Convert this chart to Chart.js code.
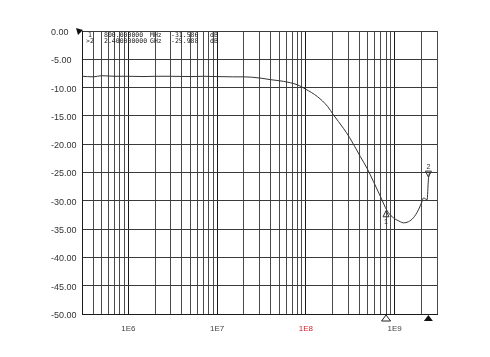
<!DOCTYPE html>
<html>
<head>
<meta charset="utf-8">
<script src="https://cdn.jsdelivr.net/npm/chart.js@4.4.0/dist/chart.umd.min.js"></script>
<style>
  html, body { margin: 0; padding: 0; background: #fff; }
  #wrap { width: 490px; height: 357px; }
</style>
</head>
<body>
<div id="wrap"><canvas id="chart" width="490" height="357"></canvas></div>
<script>
// trace: frequency (MHz) and level (dB)
const freqMHz = [0.3, 0.4, 0.5, 0.7, 1, 1.5, 2, 3, 5, 7, 10, 15, 20, 30, 40, 56, 80, 100, 135, 175,
  204, 265, 310, 411, 490, 577, 690, 787, 851, 968, 1161, 1256, 1429, 1626, 1854, 2037, 2109, 2323, 2399, 2466];
const levelDb = [-8.0, -8.1, -7.9, -8.0, -8.0, -8.05, -8.0, -8.0, -8.05, -8.0, -8.05, -8.1, -8.1, -8.3, -8.6,
  -8.9, -9.5, -10.3, -11.6, -13.3, -14.8, -17.2, -18.8, -22.2, -24.3, -26.6, -29.2, -31.2, -32.1, -33.0,
  -33.7, -33.9, -33.7, -33.0, -31.6, -30.1, -29.5, -29.8, -26.3, -25.0];

// marker readout
const markerNames = ['1', '>2'];
const markerMHz = [800, 2400];
const markerDb = [-31.586, -25.988];
const markerFreqText = ['800.000000', '2.400000000'];
const markerUnit = ['MHz', 'GHz'];

// axes
const xMinHz = 3e5;
const xMaxHz = 3e9;
const yMin = -50;
const yMax = 0;
const yStep = 5;
const decades = [1e5, 1e6, 1e7, 1e8, 1e9];
const multiples = [1, 2, 3, 4, 5, 6, 7, 8, 9];

const gridValues = [];
decades.forEach(d => multiples.forEach(m => {
  const v = d * m;
  if (v >= xMinHz - 1 && v <= xMaxHz + 1) gridValues.push(v);
}));

function isDecade(v) {
  const l = Math.log10(v);
  return Math.abs(l - Math.round(l)) < 1e-6;
}

const overlay = {
  id: 'overlay',
  afterDraw(chart) {
    const ctx = chart.ctx;
    const xs = chart.scales.x, ys = chart.scales.y;
    const area = chart.chartArea;
    ctx.save();

    // marker readout in top-left of the plot
    ctx.font = '6.5px "DejaVu Sans Mono"';
    ctx.fillStyle = '#222';
    ctx.textBaseline = 'middle';
    ctx.textAlign = 'left';
    markerNames.forEach((name, i) => {
      const ty = area.top + 4 + i * 6.5;
      ctx.fillText(name, area.left + (i ? 4 : 6), ty);
      ctx.fillText(markerFreqText[i], area.left + 22, ty);
      ctx.fillText(markerUnit[i], area.left + 68, ty);
      ctx.fillText(markerDb[i].toFixed(3), area.left + 89, ty);
      ctx.fillText('dB', area.left + 128, ty);
    });

    // reference flag at top-left corner
    ctx.fillStyle = '#111';
    ctx.beginPath();
    ctx.moveTo(area.left - 6, area.top - 3);
    ctx.lineTo(area.left + 1, area.top - 1);
    ctx.lineTo(area.left - 4, area.top + 4);
    ctx.closePath();
    ctx.fill();

    markerMHz.forEach((f, i) => {
      const px = xs.getPixelForValue(f * 1e6);
      const py = ys.getPixelForValue(markerDb[i]);

      // marker triangles under the x axis
      ctx.beginPath();
      ctx.moveTo(px, area.bottom + 1);
      ctx.lineTo(px + 4.5, area.bottom + 7);
      ctx.lineTo(px - 4.5, area.bottom + 7);
      ctx.closePath();
      ctx.lineWidth = 1;
      ctx.strokeStyle = '#222';
      if (i === 0) {
        ctx.fillStyle = '#fff';
        ctx.fill();
        ctx.stroke();
      } else {
        ctx.fillStyle = '#111';
        ctx.fill();
      }

      // marker symbol on the trace
      ctx.strokeStyle = '#333';
      ctx.beginPath();
      if (i === 0) {
        ctx.moveTo(px, py + 1);
        ctx.lineTo(px + 3, py + 7);
        ctx.lineTo(px - 3, py + 7);
      } else {
        ctx.moveTo(px, py - 1);
        ctx.lineTo(px + 3, py - 7);
        ctx.lineTo(px - 3, py - 7);
      }
      ctx.closePath();
      ctx.stroke();
      ctx.fillStyle = '#333';
      ctx.font = '7px "Liberation Sans"';
      ctx.textAlign = 'center';
      ctx.fillText(i === 0 ? '1' : '2', px, i === 0 ? py + 12 : py - 11);
    });
    ctx.restore();
  }
};

const points = freqMHz.map((f, i) => ({ x: f * 1e6, y: levelDb[i] }));

new Chart(document.getElementById('chart'), {
  type: 'line',
  data: {
    datasets: [{
      data: points,
      borderColor: '#333',
      borderWidth: 1,
      pointRadius: 0,
      cubicInterpolationMode: 'monotone',
      fill: false
    }]
  },
  options: {
    responsive: false,
    animation: false,
    layout: { padding: { left: 51, right: 53, top: 31, bottom: 0 } },
    plugins: { legend: { display: false }, tooltip: { enabled: false } },
    scales: {
      x: {
        type: 'logarithmic',
        min: xMinHz,
        max: xMaxHz,
        afterBuildTicks: (scale) => { scale.ticks = gridValues.map(v => ({ value: v })); },
        afterFit: (scale) => { scale.height = 43; },
        grid: {
          color: (c) => (c.tick && isDecade(c.tick.value)) ? '#1a1a1a' : '#4a4a4a',
          lineWidth: 1,
          drawTicks: false
        },
        border: { color: '#1a1a1a', width: 1 },
        ticks: {
          autoSkip: false,
          maxRotation: 0,
          padding: 10,
          font: { family: 'Liberation Sans', size: 8 },
          color: (c) => (c.tick && Math.round(Math.log10(c.tick.value)) === 8 && isDecade(c.tick.value)) ? '#d42030' : '#444',
          callback: (v) => isDecade(v) ? '1E' + Math.round(Math.log10(v)) : ''
        }
      },
      y: {
        min: yMin,
        max: yMax,
        afterFit: (scale) => { scale.width = 31; },
        grid: { color: '#3a3a3a', lineWidth: 1, drawTicks: false },
        border: { color: '#1a1a1a', width: 1 },
        ticks: {
          stepSize: yStep,
          crossAlign: 'far',
          labelOffset: 1.5,
          font: { family: 'Liberation Sans', size: 9 },
          color: '#333',
          callback: (v) => v.toFixed(2)
        }
      }
    }
  },
  plugins: [overlay]
});
</script>
</body>
</html>
